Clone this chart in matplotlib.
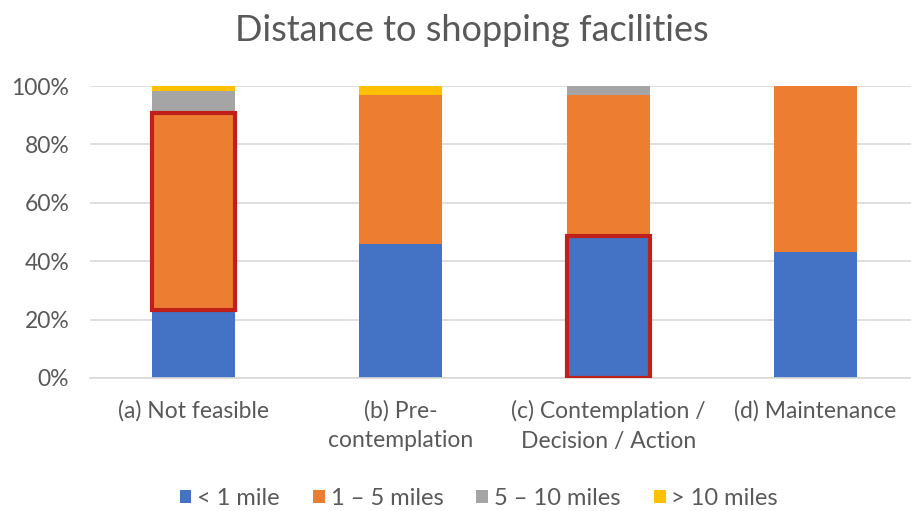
import matplotlib.pyplot as plt
import numpy as np
from matplotlib.ticker import PercentFormatter

plt.rcParams['font.family'] = ['Lato', 'DejaVu Sans']

categories = ["(a) Not feasible", "(b) Pre-\ncontemplation",
              "(c) Contemplation /\nDecision / Action", "(d) Maintenance"]
series_names = ["< 1 mile", "1 \u2013 5 miles", "5 \u2013 10 miles", "> 10 miles"]
under_1 = [23.3, 46.0, 48.6, 43.3]
one_to_5 = [67.5, 50.9, 48.3, 56.7]
five_to_10 = [7.4, 0.0, 3.1, 0.0]
over_10 = [1.8, 3.1, 0.0, 0.0]
colors = ["#4472C4", "#ED7D31", "#A5A5A5", "#FFC000"]

# highlighted segments: (category index, series index)
highlights = [(0, 1), (2, 0)]


def main():
    fig = plt.figure(figsize=(9.12, 5.11), dpi=100)
    ax = fig.add_axes([0.0987, 0.2603, 0.909, 0.5714])

    x = np.arange(len(categories))
    width = 0.4
    series = [under_1, one_to_5, five_to_10, over_10]
    bottoms = np.zeros(len(categories))
    for name, vals, col in zip(series_names, series, colors):
        ax.bar(x, vals, width, bottom=bottoms, color=col, label=name, zorder=2)
        bottoms = bottoms + np.array(vals)

    # red outlines around highlighted segments
    for ci, si in highlights:
        base = sum(series[k][ci] for k in range(si))
        ax.bar(x[ci], series[si][ci], width, bottom=base, fill=False,
               edgecolor="#C0201A", linewidth=3, zorder=3)

    ax.set_xlim(-0.5, len(categories) - 0.5)
    ax.set_ylim(0, 100)
    ax.set_yticks(np.arange(0, 101, 20))
    ax.yaxis.set_major_formatter(PercentFormatter(decimals=0))
    ax.set_xticks(x)
    ax.set_xticklabels(categories, linespacing=1.5)
    ax.yaxis.grid(True, color="#D9D9D9", linewidth=1.2, zorder=0)
    ax.set_axisbelow(True)
    for s in ["top", "right", "left"]:
        ax.spines[s].set_visible(False)
    ax.spines["bottom"].set_color("#D9D9D9")
    ax.spines["bottom"].set_linewidth(1.2)
    ax.tick_params(length=0, colors="#595959", labelsize=16.5)
    ax.tick_params(axis="x", pad=16)
    ax.tick_params(axis="y", pad=15)

    fig.text(0.517, 0.972, "Distance to shopping facilities", fontsize=26,
             color="#595959", ha="center", va="top")

    fig.legend(loc="center", bbox_to_anchor=(0.525, 0.025), ncol=4, frameon=False,
               fontsize=17, labelcolor="#595959", handlelength=0.5, handleheight=0.5,
               handletextpad=0.25, columnspacing=1.4)

    fig.savefig("out.png", dpi=100)


if __name__ == '__main__':
    main()
